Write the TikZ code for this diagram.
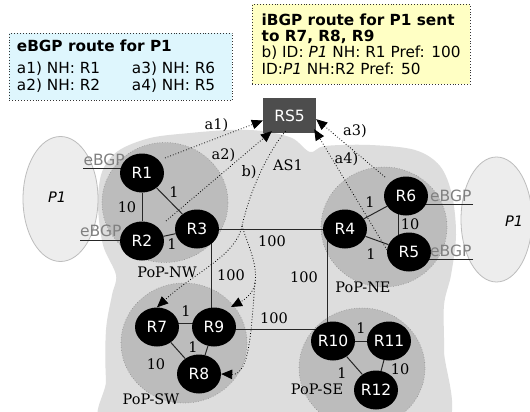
\documentclass[tikz,border=0pt]{standalone}
\usepackage{fontspec}
\setmainfont{DejaVu Serif}
\newfontfamily\dvsans{DejaVu Sans}
\usetikzlibrary{shapes.geometric,arrows.meta,calc}
\pgfdeclarelayer{bg}
\pgfdeclarelayer{mid}
\pgfsetlayers{bg,mid,main}
\definecolor{cloudgray}{RGB}{221,221,221}
\definecolor{popgray}{RGB}{188,188,188}
\definecolor{popline}{RGB}{140,140,140}
\definecolor{ponefill}{RGB}{237,237,237}
\definecolor{poneline}{RGB}{189,189,189}
\definecolor{rsgray}{RGB}{77,77,77}
\definecolor{ebgpgray}{RGB}{128,128,128}
\definecolor{cyanbox}{RGB}{222,246,253}
\definecolor{yellowbox}{RGB}{255,255,196}
\newcommand\myrfont{\dvsans\fontsize{15.5}{18}\selectfont}
\newcommand\mylfont{\fontsize{14.5}{17}\selectfont}
\newcommand\myboxfont{\dvsans\fontsize{15.3}{17}\selectfont}
\begin{document}
\begin{tikzpicture}[x=1pt,y=-1pt,
  router/.style={ellipse, fill=black, text=white, font=\myrfont, minimum width=44pt, minimum height=39pt, inner sep=0pt},
  rsbox/.style={rectangle, fill=rsgray, text=white, font=\myrfont, minimum width=53pt, minimum height=35pt, inner sep=0pt},
  pgroup/.style={ellipse, fill=popgray, draw=popline, dotted, line width=0.6pt, minimum width=126pt, minimum height=120pt, inner sep=0pt},
  pone/.style={ellipse, fill=ponefill, draw=poneline, line width=0.8pt, minimum width=75pt, minimum height=125pt, inner sep=0pt},
  lbl/.style={font=\mylfont, inner sep=0pt},
  ebgp/.style={font=\myrfont, text=ebgpgray, inner sep=0pt, anchor=base west},
  ponelbl/.style={font=\dvsans\itshape\fontsize{14.5}{17}\selectfont, inner sep=0pt},
  link/.style={line width=1pt, black!85},
  dotline/.style={dotted, line width=0.8pt},
  conn/.style={dotted, line width=0.8pt, -{Triangle[length=11pt,width=9.5pt]}},
  infobox/.style={rectangle, draw=black!80, dotted, line width=0.9pt, inner sep=0pt, anchor=north west},
  boxtxt/.style={font=\myboxfont, inner sep=0pt, anchor=base west}]
\useasboundingbox (0,0) rectangle (530,412);

% routers and route server
\node[router] (R1) at (142,173) {R1};
\node[router] (R2) at (142,241) {R2};
\node[router] (R3) at (197,229) {R3};
\node[router] (R4) at (345,229) {R4};
\node[router] (R5) at (409,252) {R5};
\node[router] (R6) at (406,196) {R6};
\node[router] (R7) at (157,327) {R7};
\node[router] (R8) at (199,374) {R8};
\node[router] (R9) at (214,327) {R9};
\node[router] (R10) at (333,341) {R10};
\node[router] (R11) at (389,341) {R11};
\node[router] (R12) at (376,390) {R12};
\node[rsbox] (RS5) at (289.5,115.5) {RS5};

\begin{pgfonlayer}{bg}
\fill[white] (0,0) rectangle (530,412);
\fill[cloudgray] plot[smooth cycle, tension=0.55] coordinates {
  (98,205) (102,172) (118,151) (150,138) (190,133) (230,130) (262,131)
  (292,138) (310,152) (325,146) (370,145) (415,150) (440,166) (452,195)
  (456,235) (451,275) (444,305) (444,350) (442,430) (300,430) (112,430)
  (106,380) (106,330) (112,295) (116,275) (103,245)};
\node[pgroup] (pnw) at (165,202.5) {};
\node[pgroup] (pne) at (384,227) {};
\node[pgroup] (psw) at (184,343) {};
\node[pgroup] (pse) at (362,368) {};
\node[pone] (p1l) at (60.5,199) {};
\node[pone, minimum width=71pt] (p1r) at (496.5,219.5) {};
\end{pgfonlayer}

% eBGP end points
\coordinate (e1) at (83,168);
\coordinate (e2) at (80,240);
\coordinate (e6) at (473,204);
\coordinate (e5) at (473,259);

\begin{pgfonlayer}{mid}
\draw[link] (R1) -- (R2);
\draw[link] (R1) -- (R3);
\draw[link] (R2) -- (R3);
\draw[link] (R3) -- (R4);
\draw[link] ($(R3)+(14,0)$) -- ($(R9)+(-3,0)$);
\draw[link] ($(R4)+(-18,0)$) -- ($(R10)+(-6,0)$);
\draw[link] ($(R9)+(0,2)$) -- ($(R10)+(0,-12)$);
\draw[link] (R4) -- (R6);
\draw[link] (R4) -- (R5);
\draw[link] ($(R6)+(-8,0)$) -- ($(R5)+(-11,0)$);
\draw[link] ($(R7)+(0,-4)$) -- ($(R9)+(0,-4)$);
\draw[link] (R9) -- (R8);
\draw[link] (R7) -- (R8);
\draw[link] (R10) -- (R11);
\draw[link] (R10) -- (R12);
\draw[link] (R11) -- (R12);
\draw[link] (e1) -- (e1 -| R1);
\draw[link] (e2) -- (e2 -| R2);
\draw[link] (e6) -- (e6 -| R6);
\draw[link] (e5) -- (e5 -| R5);
\end{pgfonlayer}

% link weights
\node[lbl] (w12) at (127,207) {10};
\node[lbl] (w13) at (174,192) {1};
\node[lbl] (w23) at (172,244) {1};
\node[lbl] (w34) at (272,241) {100};
\node[lbl] (w39) at (231,275) {100};
\node[lbl] (w410) at (304,277) {100};
\node[lbl] (w910) at (274,318) {100};
\node[lbl] (w46) at (370,202) {1};
\node[lbl] (w45) at (371,254) {1};
\node[lbl] (w65) at (410,224) {10};
\node[lbl] (w79) at (186,311) {1};
\node[lbl] (w98) at (193,347) {1};
\node[lbl] (w78) at (156,364) {10};
\node[lbl] (w1011) at (361,328) {1};
\node[lbl] (w1012) at (342,373) {1};
\node[lbl] (w1112) at (400,369) {10};

% group labels
\node[lbl] (lnw) at (167,272) {PoP-NW};
\node[lbl] (lne) at (363,287) {PoP-NE};
\node[lbl] (lsw) at (151,399) {PoP-SW};
\node[lbl] (lse) at (317,389) {PoP-SE};
\node[lbl] (las) at (288,165) {AS1};

% P1 and eBGP labels
\node[ponelbl] (tp1l) at (57,197) {P1};
\node[ponelbl] (tp1r) at (514,221) {P1};
\node[ebgp] (eb1) at (83.3,165) {eBGP};
\node[ebgp] (eb2) at (80,236.7) {eBGP};
\node[ebgp] (eb6) at (430,201) {eBGP};
\node[ebgp] (eb5) at (430,256.7) {eBGP};

% route announcements
\coordinate (a1s) at (165,158);
\coordinate (a2s) at (166,221);
\coordinate (a3s) at (385,177);
\coordinate (a4s) at (387,250);
\coordinate (bst) at ($(RS5.south)+(-4,-2)$);
\coordinate (bs) at (242,226);
\coordinate (bc) at (255,283);
\draw[conn] (a1s) -- ($(RS5.west)+(0,5)$);
\draw[conn] (a2s) -- ($(RS5.south west)+(9,-2)$);
\draw[conn] (a3s) -- ($(RS5.south east)+(0,-14)$);
\draw[conn] (a4s) -- ($(RS5.south east)+(-2,-4)$);
\draw[dotline] (bst) .. controls (268,152) and (250,190) .. (bs);
\draw[conn] (bs) .. controls (236,256) and (195,272) .. (R7.north);
\draw[dotline] (bs) .. controls (248,245) and (258,265) .. (bc);
\draw[conn] (bc) .. controls (254,293) and (244,300) .. ($(R9)+(17,-20)$);
\draw[conn] (bc) .. controls (251,330) and (250,375) .. (R8.east);
\node[lbl] (la1) at (216.5,125) {a1)};
\node[lbl] (la2) at (223.5,155.5) {a2)};
\node[lbl] (lb) at (249,171.7) {b)};
\node[lbl] (la3) at (355,131) {a3)};
\node[lbl] (la4) at (346.5,159.5) {a4)};

% information boxes
\node[infobox, fill=cyanbox, minimum width=223pt, minimum height=67pt] (ebox) at (9,33) {};
\node[boxtxt] (et0) at (16.7,51.7) {\bfseries eBGP route for P1};
\node[boxtxt] (et1) at (16.7,74) {a1) NH: R1};
\node[boxtxt] (et2) at (131.7,74) {a3) NH: R6};
\node[boxtxt] (et3) at (16.7,90.7) {a2) NH: R2};
\node[boxtxt] (et4) at (131.7,90.7) {a4) NH: R5};

\node[infobox, fill=yellowbox, minimum width=218pt, minimum height=80pt] (ibox) at (252,4) {};
\node[boxtxt] (it0) at (261.5,26) {\bfseries iBGP route for P1 sent};
\node[boxtxt] (it1) at (261.5,42) {\bfseries to R7, R8, R9};
\node[boxtxt] (it2) at (261.5,57.5) {b) ID: \textit{P1} NH: R1 Pref: 100};
\node[boxtxt] (it3) at (261.5,74.5) {ID:\textit{P1} NH:R2 Pref: 50};
\end{tikzpicture}
\end{document}
